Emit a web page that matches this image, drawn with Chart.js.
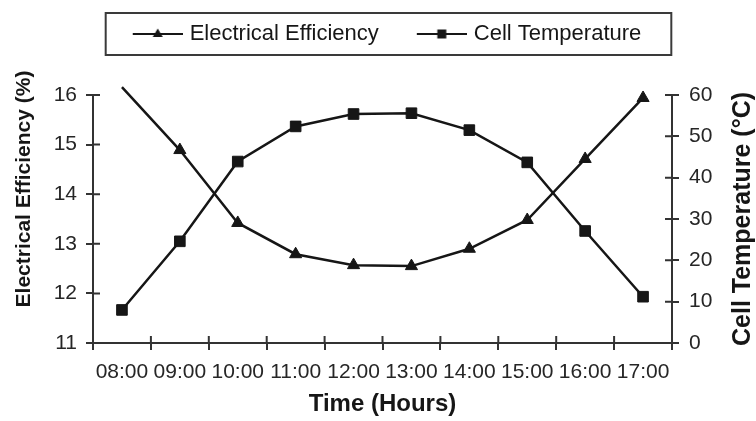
<!DOCTYPE html>
<html>
<head>
<meta charset="utf-8">
<script src="https://cdn.jsdelivr.net/npm/chart.js@4.4.1/dist/chart.umd.min.js"></script>
<style>
  html, body { margin: 0; padding: 0; background: #ffffff; }
  #wrap { width: 756px; height: 421px; position: relative; }
</style>
</head>
<body>
<div id="wrap"><canvas id="c" width="756" height="421"></canvas></div>
<script>
// ---- data ----
const timeLabels = ['08:00', '09:00', '10:00', '11:00', '12:00', '13:00', '14:00', '15:00', '16:00', '17:00'];
const efficiencyValues = [16.16, 14.89, 13.42, 12.79, 12.57, 12.55, 12.90, 13.48, 14.71, 15.94];
const cellTempValues = [8.0, 24.6, 43.9, 52.4, 55.4, 55.6, 51.5, 43.7, 27.1, 11.2];
const efficiencyTicks = [11, 12, 13, 14, 15, 16];
const tempTicks = [0, 10, 20, 30, 40, 50, 60];
const seriesNames = ['Electrical Efficiency', 'Cell Temperature'];
const axisTitles = { x: 'Time (Hours)', left: 'Electrical Efficiency (%)', right: 'Cell Temperature (°C)' };

const INK = '#161616';
const AXIS = '#333333';
const FONT = "'Liberation Sans', Arial, Helvetica, sans-serif";

// legend icons: line with marker in the middle
function legendIcon(kind) {
  const c = document.createElement('canvas');
  c.width = 72; c.height = 16;
  const g = c.getContext('2d');
  g.strokeStyle = INK; g.lineWidth = 2;
  g.beginPath(); g.moveTo(22, 8); g.lineTo(72, 8); g.stroke();
  g.fillStyle = INK;
  const cx = 47, cy = 8;
  g.beginPath();
  if (kind === 'triangle') {
    g.moveTo(cx, cy - 5.5); g.lineTo(cx + 5, cy + 3); g.lineTo(cx - 5, cy + 3); g.closePath();
  } else {
    g.rect(cx - 4.5, cy - 4.5, 9, 9);
  }
  g.fill();
  return c;
}
const legendIcons = [legendIcon('triangle'), legendIcon('rect')];

const extraTicks = {
  id: 'extraTicks',
  beforeLayout(chart) {
    const lg = chart.legend;
    if (lg && !lg._gapPatched) {
      const orig = lg.fit;
      lg.fit = function () { orig.call(this); this.height += 40; };
      lg._gapPatched = true;
    }
  },
  afterDraw(chart) {
    const ctx = chart.ctx;
    const a = chart.chartArea;
    const len = 7;
    ctx.save();
    ctx.strokeStyle = AXIS;
    ctx.lineWidth = 2;
    // inner halves of tick marks
    const yl = chart.scales.y, yr = chart.scales.y1, x = chart.scales.x;
    ctx.beginPath();
    yl.ticks.forEach(t => { const p = yl.getPixelForValue(t.value); ctx.moveTo(a.left, p); ctx.lineTo(a.left + len, p); });
    yr.ticks.forEach(t => { const p = yr.getPixelForValue(t.value); ctx.moveTo(a.right, p); ctx.lineTo(a.right - len, p); });
    const n = x.ticks.length;
    for (let i = 0; i <= n; i++) {
      const p = a.left + (a.right - a.left) * i / n;
      ctx.moveTo(p, a.bottom); ctx.lineTo(p, a.bottom - len);
    }
    ctx.stroke();

    // legend frame
    const lg = chart.legend;
    if (lg && lg.legendHitBoxes && lg.legendHitBoxes.length) {
      const hb = lg.legendHitBoxes;
      const last = hb[hb.length - 1];
      const l = hb[0].left - 9;
      const r = last.left + last.width + 30;
      const t = hb[0].top - 10, b = t + 42;
      ctx.strokeStyle = '#3a3a3a';
      ctx.lineWidth = 2;
      ctx.strokeRect(l, t, r - l, b - t);
    }

    // vertical axis titles (both read bottom-to-top)
    ctx.fillStyle = INK;
    ctx.textAlign = 'center';
    ctx.textBaseline = 'middle';
    const midY = (a.top + a.bottom) / 2;
    ctx.save();
    ctx.font = 'bold 21px ' + FONT;
    ctx.translate(24, midY - 30);
    ctx.rotate(-Math.PI / 2);
    ctx.fillText(axisTitles.left, 0, 0);
    ctx.restore();
    ctx.save();
    ctx.font = 'bold 25px ' + FONT;
    ctx.translate(743, midY);
    ctx.rotate(-Math.PI / 2);
    ctx.fillText(axisTitles.right, 0, 0);
    ctx.restore();
    ctx.restore();
  }
};

new Chart(document.getElementById('c'), {
  type: 'line',
  data: {
    labels: timeLabels,
    datasets: [
      {
        label: seriesNames[0],
        data: efficiencyValues,
        yAxisID: 'y',
        borderColor: INK,
        backgroundColor: INK,
        borderWidth: 2.5,
        pointStyle: 'triangle',
        pointRadius: ctx => (ctx.parsed && ctx.parsed.y > efficiencyTicks[efficiencyTicks.length - 1] ? 0 : 7),
        pointBorderWidth: 1,
        tension: 0,
        clip: false
      },
      {
        label: seriesNames[1],
        data: cellTempValues,
        yAxisID: 'y1',
        borderColor: INK,
        backgroundColor: INK,
        borderWidth: 2.5,
        pointStyle: 'rect',
        pointRadius: 7.5,
        pointBorderWidth: 1,
        tension: 0
      }
    ]
  },
  options: {
    responsive: false,
    animation: false,
    devicePixelRatio: 1,
    layout: { padding: { top: 3, left: 0, right: 0, bottom: 0 } },
    plugins: {
      tooltip: { enabled: false },
      legend: {
        display: true,
        position: 'top',
        labels: {
          usePointStyle: true,
          pointStyleWidth: 64,
          padding: 20,
          color: INK,
          font: { family: FONT, size: 22 },
          generateLabels(chart) {
            const items = Chart.defaults.plugins.legend.labels.generateLabels(chart);
            items.forEach((it, i) => { it.pointStyle = legendIcons[i]; it.lineWidth = 0; });
            return items;
          }
        }
      }
    },
    scales: {
      x: {
        type: 'category',
        offset: true,
        grid: { display: true, offset: true, drawOnChartArea: false, drawTicks: true, tickLength: 7, color: AXIS, lineWidth: 2 },
        border: { display: true, color: AXIS, width: 2 },
        ticks: { color: '#262626', font: { family: FONT, size: 21 }, padding: 10, maxRotation: 0, autoSkip: false },
        title: { display: true, text: axisTitles.x, color: INK, font: { family: FONT, size: 24, weight: 'bold' }, padding: { top: 0, bottom: 2 } },
        afterFit(s) { s.height = 78; }
      },
      y: {
        position: 'left',
        min: efficiencyTicks[0],
        max: efficiencyTicks[efficiencyTicks.length - 1],
        afterBuildTicks(s) { s.ticks = efficiencyTicks.map(v => ({ value: v })); },
        grid: { display: true, drawOnChartArea: false, drawTicks: true, tickLength: 7, color: AXIS, lineWidth: 2 },
        border: { display: true, color: AXIS, width: 2 },
        ticks: { color: '#262626', font: { family: FONT, size: 21 }, padding: 9 },
        afterFit(s) { s.width = 93; }
      },
      y1: {
        position: 'right',
        min: tempTicks[0],
        max: tempTicks[tempTicks.length - 1],
        afterBuildTicks(s) { s.ticks = tempTicks.map(v => ({ value: v })); },
        grid: { display: true, drawOnChartArea: false, drawTicks: true, tickLength: 7, color: AXIS, lineWidth: 2 },
        border: { display: true, color: AXIS, width: 2 },
        ticks: { color: '#262626', font: { family: FONT, size: 21 }, padding: 10 },
        afterFit(s) { s.width = 84; }
      }
    }
  },
  plugins: [extraTicks]
});
</script>
</body>
</html>
